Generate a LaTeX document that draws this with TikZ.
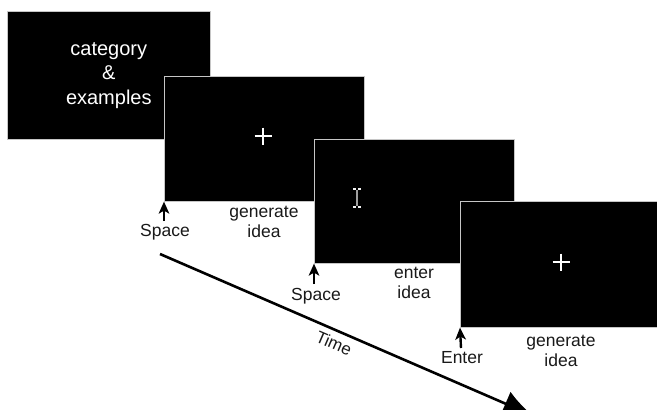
\documentclass[tikz,border=0pt]{standalone}
\usepackage{fontspec}
\setmainfont{Liberation Sans}
\usetikzlibrary{arrows.meta,calc}
\tikzset{
  screen/.style={fill=black, draw=gray!45, line width=0.6pt, anchor=north west, inner sep=0pt},
  lbl/.style={font=\fontsize{17.5}{20}\selectfont, text=black!90, align=center, inner sep=0pt},
  keyarrow/.style={line width=2.4pt, -{Stealth[length=12pt,width=10.5pt,inset=3pt]}},
  timearrow/.style={line width=2.6pt, -{Latex[length=30pt,width=26pt]}},
  crossline/.style={white, line width=2.6pt},
}
\begin{document}
\begin{tikzpicture}[x=1pt,y=-1pt]
\useasboundingbox (0,0) rectangle (657,410);
\clip (0,0) rectangle (657,410);
% screens
\node[screen, minimum width=203pt, minimum height=128pt, text=white, align=center,
      font=\fontsize{20}{24.5}\selectfont] (s1) at (7,11) {category\\\&\\examples};
\node[screen, minimum width=200pt, minimum height=125pt] (s2) at (164,76) {};
\node[screen, minimum width=200pt, minimum height=124pt] (s3) at (314,139) {};
\node[screen, minimum width=205pt, minimum height=126pt] (s4) at (460,201) {};
% fixation crosses
\coordinate (p1) at (263,136);
\draw[crossline] ($(p1)+(-8.5,0)$) -- ($(p1)+(8.5,0)$);
\draw[crossline] ($(p1)+(0,-8.5)$) -- ($(p1)+(0,8.5)$);
\coordinate (p2) at (561,262);
\draw[crossline] ($(p2)+(-8.5,0)$) -- ($(p2)+(8.5,0)$);
\draw[crossline] ($(p2)+(0,-8.5)$) -- ($(p2)+(0,8.5)$);
% text cursor
\coordinate (ib) at (357,198);
\draw[gray!75, line width=1.4pt] ($(ib)+(0,-8)$) -- ($(ib)+(0,8)$);
\foreach \dx in {-2.6,2.6}{
  \fill[white!90!gray] ($(ib)+(\dx,-9)+(-1.3,-1.3)$) rectangle ++(2.6,2.6);
  \fill[white!90!gray] ($(ib)+(\dx,9)+(-1.3,-1.3)$) rectangle ++(2.6,2.6);
}
% key arrows
\coordinate (k1) at (164,221);
\coordinate (k2) at (314,284);
\coordinate (k3) at (461,348);
\draw[keyarrow] (k1) -- (s2.south west);
\draw[keyarrow] (k2) -- (s3.south west);
\draw[keyarrow] (k3) -- (s4.south west);
% labels
\node[lbl] (l1) at (165,232) {Space};
\node[lbl] (g1) at (264,222) {generate\\idea};
\node[lbl] (l2) at (316,296) {Space};
\node[lbl] (g2) at (414,283) {enter\\idea};
\node[lbl] (l3) at (462,358) {Enter};
\node[lbl] (g3) at (561,351) {generate\\idea};
% time axis
\coordinate (t0) at (160,254);
\coordinate (t1) at (533,415.6);
\draw[timearrow] (t0) -- (t1);
\node[lbl, font=\fontsize{17}{20}\selectfont, rotate=-23.4] (tm) at (334,343) {Time};
\end{tikzpicture}
\end{document}
